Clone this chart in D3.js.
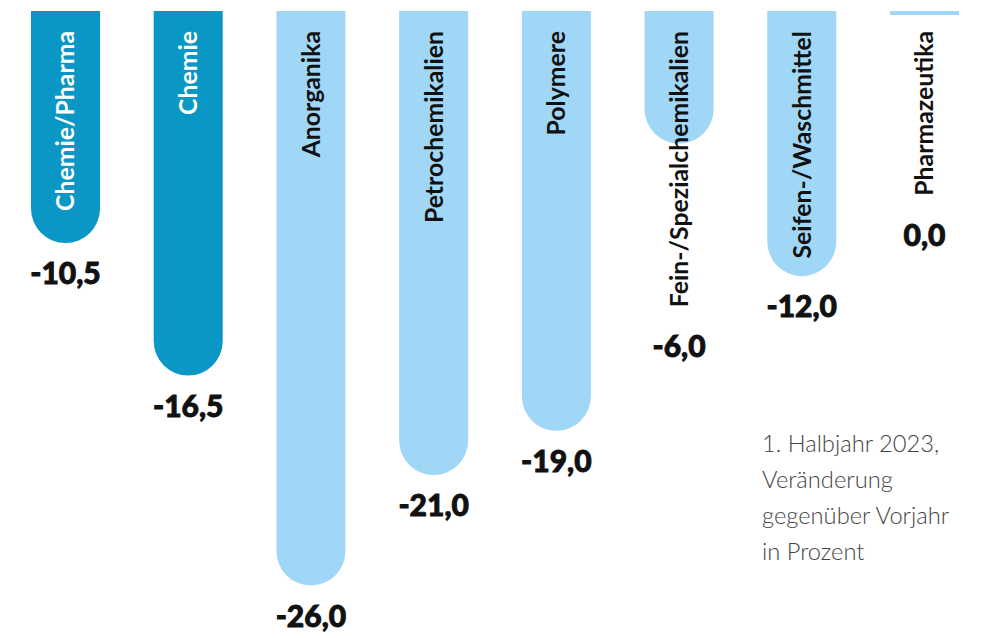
<!DOCTYPE html>
<html>
<head>
<meta charset="utf-8">
<script src="https://cdn.jsdelivr.net/npm/d3@7"></script>
<style>
  html, body { margin: 0; padding: 0; background: #fff; }
  svg { display: block; }
</style>
</head>
<body>
<svg id="chart" width="986" height="638"></svg>
<script>
const categories = ["Chemie/Pharma", "Chemie", "Anorganika", "Petrochemikalien", "Polymere", "Fein-/Spezialchemikalien", "Seifen-/Waschmittel", "Pharmazeutika"];
const values = [-10.5, -16.5, -26.0, -21.0, -19.0, -6.0, -12.0, 0.0];
const highlighted = [true, true, false, false, false, false, false, false];
const noteLines = ["1. Halbjahr 2023,", "Veränderung", "gegenüber Vorjahr", "in Prozent"];

const W = 986, H = 638;
const svg = d3.select("#chart");

const x = d3.scaleBand().domain(categories).range([31, 959]).paddingInner(0.4377).paddingOuter(0);
const y = d3.scaleLinear().domain([0, -26]).range([11, 585.5]);
const colorDark = "#0a97c5", colorLight = "#a0d6f6";
const minH = 4;

const fmt = d3.formatLocale({decimal: ",", thousands: ".", grouping: [3], currency: ["", "€"], minus: "-"}).format(".1f");

function barPath(x0, w, top, h) {
  const r = Math.min(w / 2, h);
  if (h <= minH) return `M${x0},${top}h${w}v${h}h${-w}Z`;
  return `M${x0},${top}H${x0 + w}V${top + h - r}A${r},${r} 0 0 1 ${x0 + w - r},${top + h}H${x0 + r}A${r},${r} 0 0 1 ${x0},${top + h - r}Z`;
}

const data = categories.map((c, i) => ({c, v: values[i], hl: highlighted[i]}));

const g = svg.selectAll("g.bar").data(data).join("g").attr("class", "bar");

g.append("path")
  .attr("d", d => {
    const h = Math.max(minH, y(d.v) - y(0));
    return barPath(x(d.c), x.bandwidth(), y(0), h);
  })
  .attr("fill", d => d.hl ? colorDark : colorLight);

g.append("text")
  .attr("transform", d => `translate(${x(d.c) + x.bandwidth() / 2},31) rotate(-90)`)
  .attr("text-anchor", "end")
  .attr("dy", "0.36em")
  .attr("font-family", "Lato, sans-serif")
  .attr("font-weight", 700)
  .attr("font-size", 24.8)
  .attr("fill", d => d.hl ? "#ffffff" : "#111111")
  .text(d => d.c);

g.each(function(d) {
  const t = d3.select(this).select("text").node();
  const len = t.getComputedTextLength();
  const textBottom = 31 + len;
  const barBottom = y(0) + Math.max(minH, y(d.v) - y(0));
  const base = Math.max(barBottom + 41, textBottom + 50);
  d3.select(this).append("text")
    .attr("x", x(d.c) + x.bandwidth() / 2)
    .attr("y", base)
    .attr("text-anchor", "middle")
    .attr("font-family", "Lato, sans-serif")
    .attr("font-weight", 900)
    .attr("font-size", 30)
    .attr("fill", "#111111")
    .attr("stroke", "#111111")
    .attr("stroke-width", 0.9)
    .text(fmt(d.v));
});

svg.append("g").selectAll("text").data(noteLines).join("text")
  .attr("x", 762)
  .attr("y", (d, i) => 452 + i * 36)
  .attr("font-family", "Lato, sans-serif")
  .attr("font-weight", 300)
  .attr("font-size", 23.7)
  .attr("fill", "#444444")
  .text(d => d);
</script>
</body>
</html>
